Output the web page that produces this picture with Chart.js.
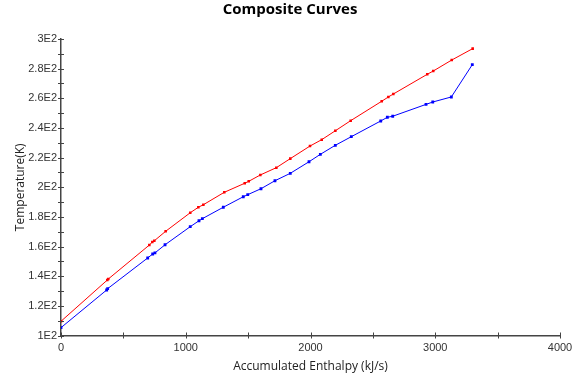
<!DOCTYPE html>
<html>
<head>
<meta charset="utf-8">
<script src="https://cdn.jsdelivr.net/npm/chart.js@4/dist/chart.umd.min.js"></script>
<style>
  html, body { margin: 0; padding: 0; background: #fff; }
  #wrap { width: 585px; height: 383px; }
</style>
</head>
<body>
<div id="wrap"><canvas id="chart-curves"></canvas></div>
<script>
/* =====================
  Data
===================== */

// hot composite curve (red)
var hotEnthalpy = [0, 371, 379, 708, 732, 748, 839, 1036, 1101, 1141, 1309, 1473, 1505, 1598, 1726, 1838, 1996, 2090, 2199, 2322, 2571, 2624, 2664, 2936, 2984, 3132, 3300];
var hotTemp = [109.6, 137.4, 138.1, 161.0, 163.1, 163.9, 170.3, 182.8, 186.5, 188.2, 196.6, 202.7, 204.0, 208.3, 213.2, 219.3, 227.8, 232.1, 238.1, 244.9, 258.0, 260.9, 262.9, 276.2, 278.4, 285.8, 293.5];

// cold composite curve (blue)
var coldEnthalpy = [0, 366, 374, 695, 735, 753, 834, 1036, 1106, 1133, 1301, 1461, 1497, 1603, 1715, 1838, 1988, 2079, 2199, 2327, 2563, 2616, 2659, 2926, 2980, 3129, 3297];
var coldTemp = [105.3, 130.7, 131.6, 152.3, 155.0, 155.7, 161.2, 173.4, 177.4, 178.8, 186.5, 193.6, 195.0, 199.0, 204.4, 209.4, 217.2, 222.2, 228.3, 234.1, 244.7, 247.2, 247.9, 255.9, 257.5, 260.9, 282.7];

// axes
var xMin = 0, xMax = 4000, xStep = 500, xLabelStep = 1000;
var yMin = 100, yMax = 300, yStep = 10, yLabelStep = 20;

var toPoints = function(xs, ys) {
  return xs.map(function(x, i) { return {x: x, y: ys[i]}; });
};

// ticks in the original cross the axis line, so draw them by hand
var crossTicks = {
  id: 'crossTicks',
  afterDraw: function(chart) {
    var c = chart.ctx;
    var xs = chart.scales.x, ys = chart.scales.y;
    var area = chart.chartArea;
    c.save();
    c.strokeStyle = '#444';
    c.lineWidth = 1;
    xs.ticks.forEach(function(t) {
      var px = Math.round(xs.getPixelForValue(t.value)) + 0.5;
      c.beginPath();
      c.moveTo(px, area.bottom - 3);
      c.lineTo(px, area.bottom + 3);
      c.stroke();
    });
    ys.ticks.forEach(function(t) {
      var py = Math.round(ys.getPixelForValue(t.value)) + 0.5;
      c.beginPath();
      c.moveTo(area.left - 3, py);
      c.lineTo(area.left + 3, py);
      c.stroke();
    });
    c.restore();
  }
};

var ctx = document.getElementById('chart-curves').getContext('2d');
var chart = new Chart(ctx, {
  type: 'line',
  data: {
    datasets: [{
      label: 'Hot',
      data: toPoints(hotEnthalpy, hotTemp),
      borderColor: '#ff0000',
      backgroundColor: '#ff0000',
      borderWidth: 1,
      pointStyle: 'rect',
      pointRadius: 1.8,
      pointBorderWidth: 0,
      tension: 0
    }, {
      label: 'Cold',
      data: toPoints(coldEnthalpy, coldTemp),
      borderColor: '#0000ff',
      backgroundColor: '#0000ff',
      borderWidth: 1,
      pointStyle: 'rect',
      pointRadius: 2,
      pointBorderWidth: 0,
      tension: 0
    }]
  },
  options: {
    responsive: true,
    maintainAspectRatio: false,
    animation: false,
    layout: { padding: { left: 0, right: 5, top: 0, bottom: 0 } },
    plugins: {
      legend: { display: false },
      tooltip: { enabled: false },
      title: {
        display: true,
        text: 'Composite Curves',
        color: '#000',
        font: { family: 'Open Sans', size: 15, weight: 'bold', lineHeight: 1.2 },
        padding: { top: 0.5, bottom: 20.5 }
      }
    },
    scales: {
      x: {
        type: 'linear',
        min: xMin,
        max: xMax,
        afterFit: function(scale) { scale.height = 47.5; },
        border: { color: '#444', width: 1.5 },
        grid: { display: true, drawOnChartArea: false, drawTicks: false },
        ticks: {
          stepSize: xStep,
          padding: 6,
          maxRotation: 0,
          autoSkip: false,
          color: '#333',
          font: { family: 'Liberation Sans', size: 11 },
          callback: function(v) { return v % xLabelStep === 0 ? String(v) : ''; }
        },
        title: {
          display: true,
          text: 'Accumulated Enthalpy (kJ/s)',
          color: '#222',
          font: { family: 'Open Sans', size: 12 },
          padding: { top: 0, bottom: 9 }
        }
      },
      y: {
        type: 'linear',
        min: yMin,
        max: yMax,
        afterFit: function(scale) { scale.width = 61; },
        border: { color: '#444', width: 1.5 },
        grid: { display: true, drawOnChartArea: false, drawTicks: false },
        ticks: {
          stepSize: yStep,
          padding: 4,
          autoSkip: false,
          color: '#333',
          font: { family: 'Liberation Sans', size: 11 },
          callback: function(v) {
            v = Math.round(v);
            return v % yLabelStep === 0 ? (v / 100) + 'E2' : '';
          }
        },
        title: {
          display: true,
          text: 'Temperature(K)',
          color: '#222',
          font: { family: 'Open Sans', size: 12 },
          padding: { top: 13, bottom: 0 }
        }
      },
      // empty right-hand box, only keeps the plot's right edge where it is
      spacer: {
        type: 'linear',
        position: 'right',
        display: true,
        afterFit: function(scale) { scale.width = 20; },
        border: { display: false },
        grid: { display: false },
        ticks: { display: false }
      }
    }
  },
  plugins: [crossTicks]
});
</script>
</body>
</html>
